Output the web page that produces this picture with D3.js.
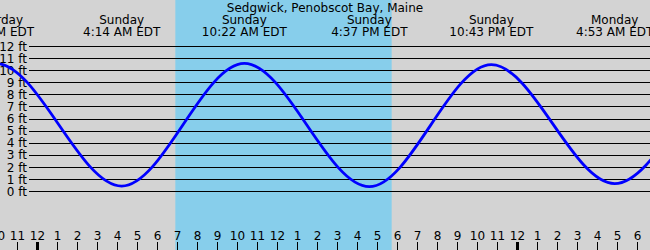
<!DOCTYPE html>
<html>
<head>
<meta charset="utf-8">
<script src="https://cdn.jsdelivr.net/npm/d3@7"></script>
<style>
    body { margin: 0; background: #d3d3d3; }
    svg { display: block; font-family: "DejaVu Sans", sans-serif; font-size: 12px; }
    .grid-line { stroke: #000; stroke-width: 1; shape-rendering: crispEdges; }
    .hour-tick { stroke: #000; shape-rendering: crispEdges; }
</style>
</head>
<body>
<script>
// tide extremes (local EDT wall time), heights in ft
var tideTimes = ["2020-10-24T15:50", "2020-10-24T21:57", "2020-10-25T04:14",
                 "2020-10-25T10:22", "2020-10-25T16:37", "2020-10-25T22:43",
                 "2020-10-26T04:53", "2020-10-26T11:08", "2020-10-26T17:20"];
var tideHeights = [0.5, 10.6, 0.45, 10.6, 0.4, 10.5, 0.65, 10.4, 0.5];

// sunrise / sunset for the shaded daylight band
var daylight = ["2020-10-25T06:55", "2020-10-25T17:44"];

// y axis tick labels (ft)
var heightTicks = [0, 1, 2, 3, 4, 5, 6, 7, 8, 9, 10, 11, 12];

var title = "Sedgwick, Penobscot Bay, Maine";

function tideChart() {
    var _width = 650, _height = 250,
        _parse = d3.utcParse("%Y-%m-%dT%H:%M"),
        _dayFmt = d3.utcFormat("%A"),
        _timeFmt = d3.utcFormat("%-I:%M %p"),
        _hourFmt = d3.utcFormat("%-I"),
        _x, _y, _svg;

    // one day = 480px, midnight Sunday sits at x=37
    _x = d3.scaleUtc()
        .domain([_parse("2020-10-25T00:00"), _parse("2020-10-26T00:00")])
        .range([37, 517]);

    _y = d3.scaleLinear()
        .domain([0, 12])
        .range([191.5, 46.5]);

    var data = tideTimes.map(function (t, i) {
        return {t: _parse(t), h: tideHeights[i]};
    });

    _svg = d3.select("body").append("svg")
        .attr("width", _width)
        .attr("height", _height);

    _svg.append("rect")
        .attr("width", _width)
        .attr("height", _height)
        .attr("fill", "#d3d3d3");

    //白天背景
    var sun = daylight.map(_parse);
    _svg.append("rect")
        .attr("x", _x(sun[0]))
        .attr("y", 0)
        .attr("width", _x(sun[1]) - _x(sun[0]))
        .attr("height", _height)
        .attr("fill", "#87ceeb");

    //水平网格线
    var grid = _svg.append("g").attr("class", "grid");
    grid.selectAll("line")
        .data(heightTicks)
        .enter().append("line")
        .attr("class", "grid-line")
        .attr("x1", 29)
        .attr("x2", _width)
        .attr("y1", function (d) { return _y(d); })
        .attr("y2", function (d) { return _y(d); });

    grid.selectAll("text")
        .data(heightTicks)
        .enter().append("text")
        .attr("x", 27)
        .attr("y", function (d) { return _y(d); })
        .attr("dy", "0.35em")
        .attr("text-anchor", "end")
        .text(function (d) { return d + " ft"; });

    //潮汐曲线
    var line = d3.line()
        .x(function (d) { return _x(d.t); })
        .y(function (d) { return _y(d.h); })
        .curve(d3.curveMonotoneX);

    _svg.append("path")
        .datum(data)
        .attr("d", line)
        .attr("fill", "none")
        .attr("stroke", "#0000ff")
        .attr("stroke-width", 2.8);

    //小时刻度
    var hours = d3.utcHour.range(_x.invert(-30), _x.invert(_width + 30));
    var axis = _svg.append("g").attr("class", "hours");

    axis.selectAll("line")
        .data(hours)
        .enter().append("line")
        .attr("class", "hour-tick")
        .attr("x1", function (d) { return Math.round(_x(d)) + 0.5; })
        .attr("x2", function (d) { return Math.round(_x(d)) + 0.5; })
        .attr("y1", 242)
        .attr("y2", _height)
        .attr("stroke-width", function (d) { return d.getUTCHours() === 0 ? 3 : 1; });

    axis.selectAll("text")
        .data(hours)
        .enter().append("text")
        .attr("x", function (d) { return Math.round(_x(d)) + 0.5; })
        .attr("y", 240)
        .attr("text-anchor", "middle")
        .text(function (d) { return _hourFmt(d); });

    //高低潮标注
    var labels = _svg.append("g").attr("class", "labels")
        .selectAll("g")
        .data(data)
        .enter().append("g")
        .attr("transform", function (d) { return "translate(" + _x(d.t) + ",0)"; });

    labels.append("text")
        .attr("y", 24)
        .attr("text-anchor", "middle")
        .text(function (d) { return _dayFmt(d.t); });

    labels.append("text")
        .attr("y", 36)
        .attr("text-anchor", "middle")
        .text(function (d) { return _timeFmt(d.t) + " EDT"; });

    //标题
    _svg.append("text")
        .attr("x", _width / 2)
        .attr("y", 12)
        .attr("text-anchor", "middle")
        .text(title);
}

tideChart();
</script>
</body>
</html>
